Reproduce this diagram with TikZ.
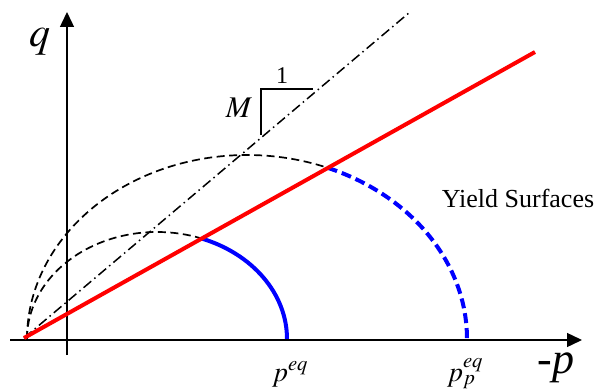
\documentclass[tikz,border=0pt]{standalone}
\usepackage{mathptmx}
\usepackage{fontspec}
\setmainfont{Liberation Serif}
\usetikzlibrary{arrows.meta}

\tikzstyle{axis}     = [line width=1.4pt, -{Triangle[length=15pt,width=14pt]}]
\tikzstyle{csl}      = [red, line width=4pt]
\tikzstyle{slope}    = [line width=1.5pt, dash pattern=on 10pt off 4pt on 1.5pt off 4pt]
\tikzstyle{oldyield} = [line width=1.7pt, dash pattern=on 8pt off 4.5pt]
\tikzstyle{newyield} = [blue, line width=4pt]
\tikzstyle{lab}      = [anchor=base, inner sep=0pt]

\begin{document}
\begin{tikzpicture}[x=1pt,y=1pt]
\useasboundingbox (0,0) rectangle (599,391);

\coordinate (pstart) at (10,51);
\coordinate (pend)   at (582,51);
\coordinate (qstart) at (67,36);
\coordinate (qend)   at (67,379);
\coordinate (apex)   at (24,53);
\coordinate (cslend) at (535,339);
\coordinate (mend)   at (410,379);
\coordinate (left)   at (27,52);
\coordinate (tri1)   at (261,256);
\coordinate (tri2)   at (313,302);

% yield surfaces
\draw[oldyield] (left) arc[start angle=180, end angle=68.5, x radius=220, y radius=184] coordinate (big);
\draw[oldyield] (left) arc[start angle=180, end angle=70, x radius=130, y radius=107] coordinate (small);
\draw[newyield, dash pattern=on 10pt off 5pt] (big) arc[start angle=68.5, end angle=0, x radius=220, y radius=184];
\draw[newyield] (small) arc[start angle=70, end angle=0, x radius=130, y radius=107];

% slope M
\draw[slope] (apex) -- (mend);
\draw[line width=1.4pt] (tri1) |- (tri2);

% axes
\draw[axis] (pstart) -- (pend);
\draw[axis] (qstart) -- (qend);

% critical state line
\draw[csl] (apex) -- (cslend);

\node[lab, font=\fontsize{42}{44}\selectfont] (qlab) at (40,344) {$q$};
\node[lab, font=\fontsize{44}{46}\selectfont] (plab) at (556,18) {\textit{-p}};
\node[lab, font=\fontsize{28}{30}\selectfont] (peq) at (290,10) {$p^{eq}$};
\node[lab, font=\fontsize{28}{30}\selectfont] (ppeq) at (465,10) {$p_p^{eq}$};
\node[lab, font=\fontsize{30}{32}\selectfont] (mlab) at (239,273) {$M$};
\node[lab, font=\fontsize{24}{26}\selectfont] (one) at (282,307) {1};
\node[lab, font=\fontsize{26}{28}\selectfont] (ys) at (518,183) {Yield Surfaces};

\end{tikzpicture}
\end{document}
